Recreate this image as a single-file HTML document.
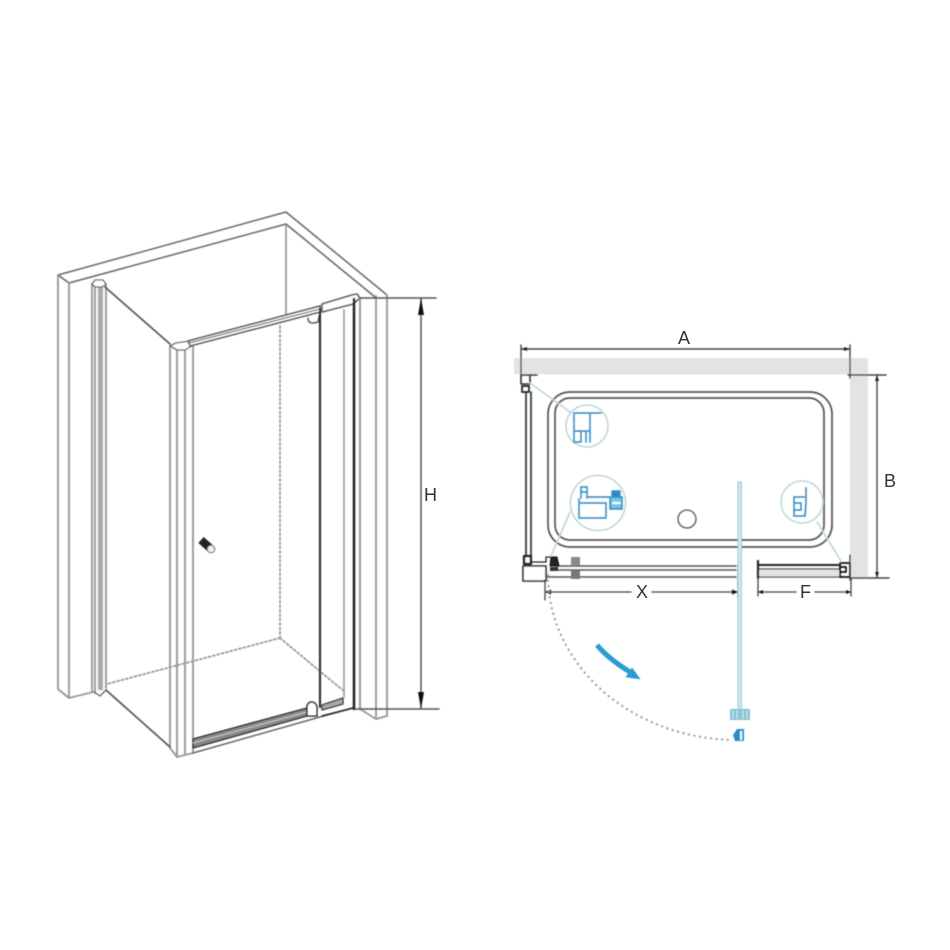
<!DOCTYPE html>
<html><head><meta charset="utf-8"><style>
html,body{margin:0;padding:0;background:#fff;width:950px;height:950px;overflow:hidden}
svg{display:block}
text{font-family:"Liberation Sans",sans-serif;fill:#333}
</style></head><body>
<svg width="950" height="950" viewBox="0 0 950 950" xmlns="http://www.w3.org/2000/svg">
<defs><filter id="b" x="-2%" y="-2%" width="104%" height="104%"><feGaussianBlur stdDeviation="0.5"/></filter></defs>
<g filter="url(#b)" fill="none" stroke-linecap="round" stroke-linejoin="round">
<!-- LEFT DRAWING -->
<g stroke="#666" stroke-width="1.5">
<path d="M58 275L286 212L387 295M69 283L286 224L375 297M58 275L69 283"/>
<path d="M286 224V314" stroke="#888"/>
</g>
<g stroke="#999" stroke-width="1.9">
<path d="M58 275V689L69 698L93 692M69 283V698"/>
<path d="M92 284V692M95 284V693M106 285V688"/>
<path d="M376 296V719M387 295V716M360 298V709L376 719L387 716" />
<path d="M170 346V748L177 757L193 753M177 350V757M185 348V755M193 345V752"/>
<path d="M344 310V697" stroke="#aaa"/>
</g>
<rect x="98" y="287" width="5" height="403" fill="#aaa"/>
<path d="M92 284L95 280L103 280L106 284L102 287L95 287Z" fill="#fff" stroke="#666" stroke-width="1.3"/>
<path d="M94 692L100 696L106 690" stroke="#666" stroke-width="1.3"/>
<path d="M105 287L170 344M106 690L170 747" stroke="#555" stroke-width="1.7"/>
<path d="M170 346L176 343L190 341L193 345L185 350L177 350Z" fill="#fff" stroke="#666" stroke-width="1.3"/>
<g stroke="#999" stroke-width="1.8" stroke-dasharray="2 2.5">
<path d="M280 326V638M280 638L107 684M280 638L345 692"/>
</g>
<!-- top rail -->
<path d="M188 341L320 306L320 312L190 346Z" fill="#fff" stroke="#555" stroke-width="1.6"/>
<path d="M189 343L320 309" stroke="#444" stroke-width="1.1"/>
<path d="M322 304L352 295L357 294L360 298L353 304L322 312Z" fill="#fff" stroke="#555" stroke-width="1.6"/>
<path d="M360 298V709" stroke="#999" stroke-width="1.6"/>
<path d="M308 318Q308 323 313 323L318 322L319 316" fill="#fff" stroke="#555" stroke-width="1.5"/>
<path d="M320 309V707" stroke="#222" stroke-width="2"/>
<path d="M354 299V709" stroke="#222" stroke-width="2.5"/>
<!-- bottom rail -->
<path d="M193 739L307 708L307 716L193 748Z" fill="#888" stroke="#222" stroke-width="1.3"/>
<path d="M193 743L307 712" stroke="#ccc" stroke-width="1"/>
<path d="M193 753L320 717L353 708" stroke="#666" stroke-width="1.5"/>
<path d="M322 705L343 698V704L322 710Z" fill="#aaa" stroke="#333" stroke-width="1.3"/>
<path d="M322 716L353 708" stroke="#222" stroke-width="1.6"/>
<path d="M307 716V706Q308 702 312 702Q317 703 317 708V716Z" fill="#fff" stroke="#222" stroke-width="1.5"/>
<!-- handle -->
<path d="M201 540L210 548" stroke="#222" stroke-width="8" stroke-linecap="butt"/>
<circle cx="211" cy="549" r="3.8" fill="#eee" stroke="#666" stroke-width="1"/>
<!-- H dim -->
<g stroke="#555" stroke-width="1.5">
<path d="M360 298H436M355 709H439M421 299V708"/>
</g>
<path d="M421 298L418 315H424Z M421 709L418 692H424Z" fill="#111"/>
<!-- RIGHT DRAWING -->
<rect x="514" y="358" width="354" height="16.5" fill="#e3e3e3"/>
<rect x="850" y="358" width="18" height="220" fill="#e3e3e3"/>
<g stroke="#444" stroke-width="1.4">
<path d="M521 345V374M850 345V378M521 349H850"/>
<path d="M848 375H886M851 578H889M877 376V577"/>
</g>
<path d="M521 349l6 -2v4zM850 349l-6 -2v4zM877 375l-2 6h4zM877 578l-2 -6h4z" fill="#222"/>
<!-- tray -->
<rect x="548" y="392" width="284" height="155" rx="22" stroke="#555" stroke-width="1.7"/>
<rect x="555" y="398" width="269" height="142" rx="15" stroke="#555" stroke-width="1.7"/>
<circle cx="687" cy="519" r="9" stroke="#555" stroke-width="1.3"/>
<!-- left panel -->
<path d="M526 392V556M531 392V556" stroke="#333" stroke-width="1.7"/>
<path d="M521 375H537M521 375V384H530V375" stroke="#333" stroke-width="1.6"/>
<path d="M522 386H529V392H522Z" stroke="#222" stroke-width="1.7"/>
<path d="M524 556H531V564H524Z" stroke="#222" stroke-width="2.2"/>
<path d="M523 566H546V581H523Z" fill="#fff" stroke="#222" stroke-width="1.6"/>
<path d="M532 562H546V557H552" stroke="#222" stroke-width="1.3"/>
<!-- door rail -->
<path d="M555 566H736M555 570H736M546 577H736" stroke="#555" stroke-width="1.4"/>
<path d="M758 565H840" stroke="#222" stroke-width="2"/>
<path d="M758 569H840M758 577H840" stroke="#666" stroke-width="1.4"/>
<rect x="759" y="570" width="80" height="6" fill="#e4e4e4"/>
<path d="M758 561V578" stroke="#222" stroke-width="2.2"/>
<path d="M551 557H557L559 566H550Z" fill="#222" stroke="#111" stroke-width="1"/>
<rect x="550" y="567" width="8" height="4" fill="#333"/>
<rect x="571" y="557" width="9" height="8" fill="#888"/>
<rect x="571" y="570" width="9" height="9" fill="#777"/>
<path d="M840 565V577H850V563H840M841 567H846V572H841" stroke="#111" stroke-width="1.7"/>
<path d="M850 555V580" stroke="#333" stroke-width="1.3"/>
<!-- X F dim -->
<g stroke="#444" stroke-width="1.3">
<path d="M545 580V600M738 566V597M758 578V596M851 578V596"/>
<path d="M546 592H631M652 592H737M759 592H796M815 592H850"/>
</g>
<path d="M545 592l6 -2.5v5zM738 592l-6 -2.5v5zM758 592l5 -2v4zM851 592l-5 -2v4z" fill="#111"/>
<!-- arc -->
<path d="M548 575A190 165 0 0 0 731 740" stroke="#999" stroke-width="2.2" stroke-dasharray="0.1 5.5"/>
<!-- callouts -->
<g stroke="#bdd6da" stroke-width="1.6">
<path d="M530 383L570 412M570 512L551 556M817 522L841 561"/>
<circle cx="587" cy="426" r="21" fill="#fff"/>
<circle cx="598" cy="503" r="27.5" fill="#fff"/>
<circle cx="802" cy="502" r="21" fill="#fff"/>
</g>
<g stroke="#2f9ad0" stroke-width="1.9">
<path d="M574 442V413H601M590 413V442M574 431H590M574 442H581V431M586 431V442"/>
<path d="M579 503H606V518H579ZM579 503V499M606 518H603"/>
<path d="M581 487V498M587 487V498M581 487H587M581 492H587M587 497H610"/>
<path d="M610 497H622V509H610Z" fill="#7cc4e4"/>
<path d="M612 491H620V497H612Z" fill="#2f86b5"/>
<path d="M613 503H620" stroke="#fff"/>
<path d="M806 488V502L805 516H794V497H804M794 503H801V510H795" stroke-width="2"/>
</g>
<!-- door blue -->
<rect x="738" y="482" width="3.4" height="230" fill="#d5e9f0" stroke="#8fbcd0" stroke-width="0.9"/>
<rect x="730" y="709" width="20" height="11" fill="#8cc3d4"/>
<path d="M733 711V718M737 711V718M743 711V718M747 711V718" stroke="#d9f0f5" stroke-width="1"/>
<path d="M733 735L737 729H744V741H735Z" fill="#2b8cc4"/>
<rect x="740" y="731" width="2.2" height="9" fill="#dff"/>
<!-- blue arrow -->
<path d="M597 645C606 656 617 664 630 672" stroke="#2c9bd0" stroke-width="5" stroke-linecap="butt"/>
<path d="M640 679L632 668L626 677Z" fill="#2c9bd0" stroke="#2c9bd0" stroke-width="0.6"/>
</g>
<text x="424" y="501" font-size="18">H</text>
<text x="678" y="344" font-size="18">A</text>
<text x="884" y="487" font-size="18">B</text>
<text x="636" y="598" font-size="18">X</text>
<text x="800" y="598" font-size="18">F</text>
</svg>
</body></html>
